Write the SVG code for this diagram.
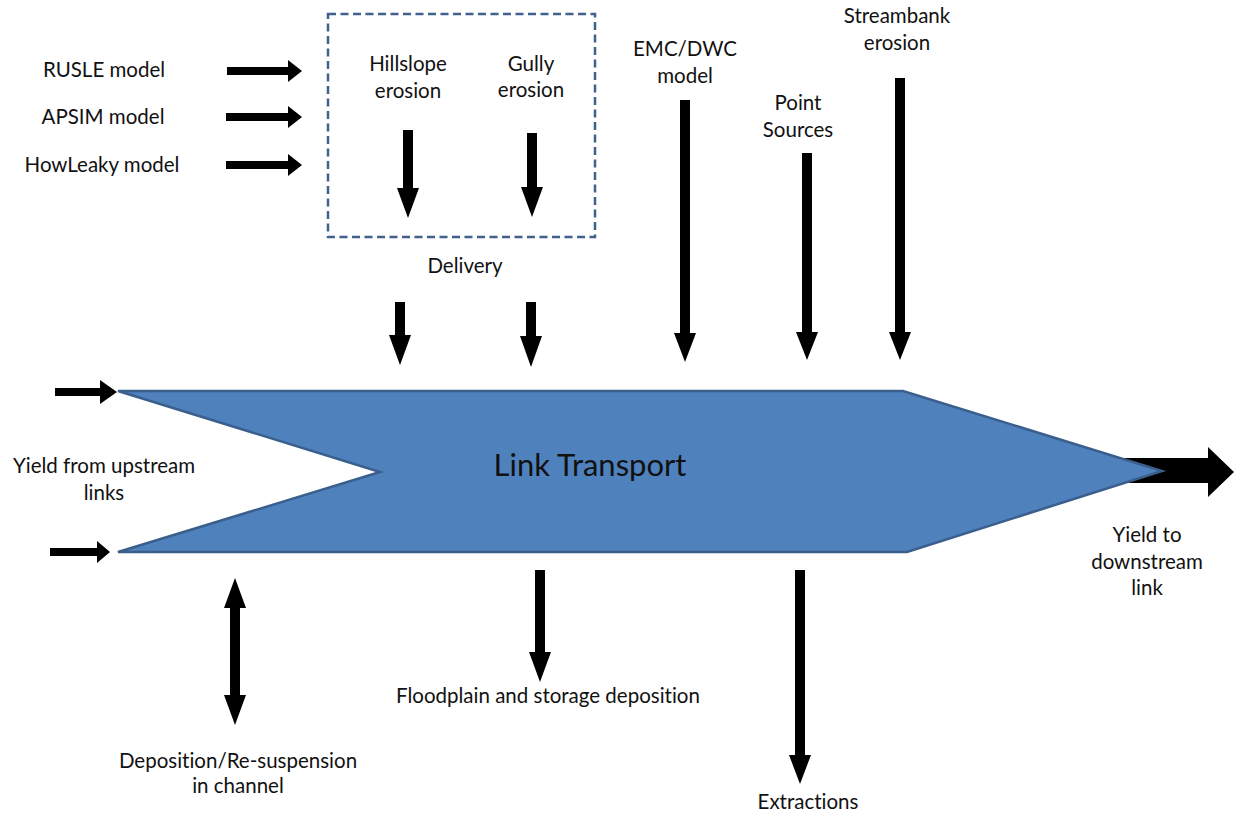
<svg xmlns="http://www.w3.org/2000/svg" width="1234" height="814" viewBox="0 0 1234 814">
<style>
text{font-family:Lato,"Open Sans",sans-serif;font-size:20.5px;fill:#111;text-anchor:middle;font-variant-ligatures:none}
.title{font-size:31px}
.arr{fill:#000}
.box{fill:none;stroke:#41618c;stroke-width:2.5;stroke-dasharray:8 4.5}
.link{fill:#4f81bd;stroke:#3a5f8d;stroke-width:2.5;stroke-linejoin:miter}
</style>
<rect width="1234" height="814" fill="#fff"/>
<g id="connectors">
<polygon class="arr" points="1110,458 1208,458 1208,447 1234,472 1208,497 1208,483 1110,483"/>
<polygon class="arr" points="227,67 288,67 288,60 302,71 288,82 288,75 227,75"/>
<polygon class="arr" points="226,113 288,113 288,106 302,117 288,128 288,121 226,121"/>
<polygon class="arr" points="226,161 288,161 288,154 302,165 288,176 288,169 226,169"/>
<polygon class="arr" points="403,130 413,130 413,188 419,188 408,218 397,188 403,188"/>
<polygon class="arr" points="527,133 537,133 537,187 543,187 532,217 521,187 527,187"/>
<polygon class="arr" points="395,302 405,302 405,335 411,335 400,365 389,335 395,335"/>
<polygon class="arr" points="526,302 536,302 536,336 542,336 531,367 520,336 526,336"/>
<polygon class="arr" points="680,100 690,100 690,333 696,333 685,362 674,333 680,333"/>
<polygon class="arr" points="802,153 812,153 812,332 818,332 807,360 796,332 802,332"/>
<polygon class="arr" points="895,78 905,78 905,332 911,332 900,360 889,332 895,332"/>
<polygon class="arr" points="55,388 100,388 100,380 117,392 100,404 100,396 55,396"/>
<polygon class="arr" points="50,548 97,548 97,541 110,552 97,563 97,556 50,556"/>
<polygon class="arr" points="235,578 246,608 240,608 240,695 246,695 235,725 224,695 230,695 230,608 224,608"/>
<polygon class="arr" points="535,570 545,570 545,652 551,652 540,682 529,652 535,652"/>
<polygon class="arr" points="795,570 805,570 805,755 811,755 800,784 789,755 795,755"/>
</g>
<g id="link-transport">
<polygon class="link" points="118,391 903,391 1162,471 907,552 118,552 380,472"/>
<text class="title" x="590" y="476">Link Transport</text>
</g>
<g id="erosion-box">
<rect class="box" x="328" y="14" width="267" height="223"/>
</g>
<g id="rusle"><text x="104" y="77">RUSLE model</text></g>
<g id="apsim"><text x="103" y="124">APSIM model</text></g>
<g id="howleaky"><text x="102" y="172">HowLeaky model</text></g>
<g id="hillslope"><text x="408" y="71">Hillslope</text><text x="408" y="98">erosion</text></g>
<g id="gully"><text x="531" y="71">Gully</text><text x="531" y="97">erosion</text></g>
<g id="delivery"><text x="465" y="273">Delivery</text></g>
<g id="emc"><text x="685" y="56">EMC/DWC</text><text x="685" y="83">model</text></g>
<g id="point"><text x="798" y="110">Point</text><text x="798" y="137">Sources</text></g>
<g id="streambank"><text x="897" y="23">Streambank</text><text x="897" y="50">erosion</text></g>
<g id="upstream"><text x="104" y="473">Yield from upstream</text><text x="104" y="500">links</text></g>
<g id="downstream"><text x="1147" y="542">Yield to</text><text x="1147" y="569">downstream</text><text x="1147" y="595">link</text></g>
<g id="deposition"><text x="238" y="768">Deposition/Re-suspension</text><text x="238" y="793">in channel</text></g>
<g id="floodplain"><text x="548" y="703">Floodplain and storage deposition</text></g>
<g id="extractions"><text x="808" y="809">Extractions</text></g>
</svg>
